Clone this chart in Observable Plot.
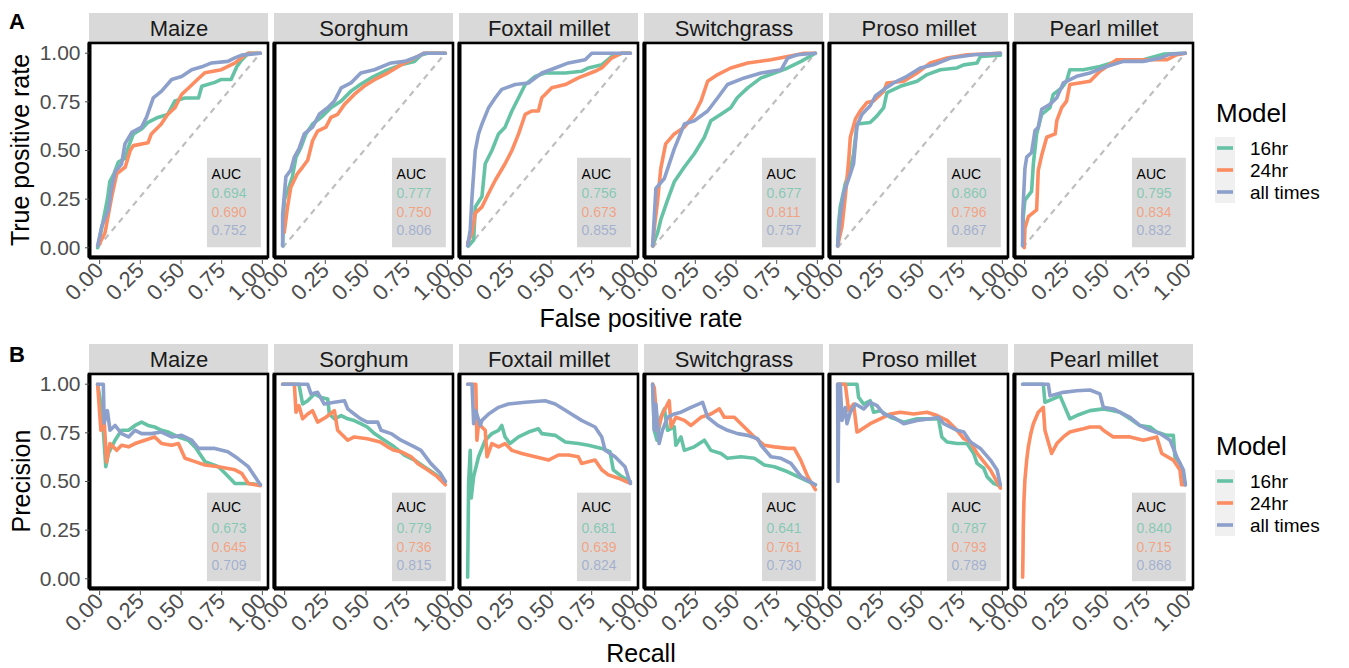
<!DOCTYPE html>
<html><head><meta charset="utf-8">
<script src="https://cdn.jsdelivr.net/npm/d3@7"></script>
<script src="https://cdn.jsdelivr.net/npm/@observablehq/plot@0.6"></script>
<style>
body{margin:0;background:#fff;overflow:hidden}
#wrap{position:relative;width:1349px;height:668px;font-family:'Liberation Sans',Arial,sans-serif}
#rowA{position:absolute;left:0;top:0}
#rowB{position:absolute;left:0;top:331px}
#overlay{position:absolute;left:0;top:0;pointer-events:none}
</style></head><body>
<div id="wrap"><div id="rowA"></div><div id="rowB"></div><svg id="overlay" width="1349" height="668"></svg></div>
<script>
const species = ["Maize","Sorghum","Foxtail millet","Switchgrass","Proso millet","Pearl millet"];
const models = ["16hr","24hr","all times"];
const modelColors = ["#66c2a5","#fc8d62","#8da0cb"];
const axisTicks = [0,0.25,0.5,0.75,1];

// AUC values, one entry per species (in species order)
const rocAuc16 = [0.694,0.777,0.756,0.677,0.860,0.795];
const rocAuc24 = [0.690,0.750,0.673,0.811,0.796,0.834];
const rocAucAll = [0.752,0.806,0.855,0.757,0.867,0.832];
const prAuc16 = [0.673,0.779,0.681,0.641,0.787,0.840];
const prAuc24 = [0.645,0.736,0.639,0.761,0.793,0.715];
const prAucAll = [0.709,0.815,0.824,0.730,0.789,0.868];

// ROC curves [false positive rate, true positive rate]
const rocMaize16 = [[0,0],[0.025,0.1],[0.06,0.25],[0.075,0.34],[0.1,0.38],[0.127,0.44],[0.17,0.46],[0.19,0.52],[0.22,0.585],[0.27,0.61],[0.31,0.645],[0.37,0.67],[0.43,0.685],[0.475,0.755],[0.537,0.77],[0.62,0.77],[0.64,0.83],[0.72,0.85],[0.76,0.865],[0.82,0.865],[0.855,0.93],[0.885,0.965],[0.925,1],[1,1]];
const rocMaize24 = [[0.01,0.02],[0.045,0.076],[0.086,0.26],[0.117,0.38],[0.17,0.415],[0.2,0.5],[0.22,0.525],[0.31,0.54],[0.33,0.585],[0.39,0.635],[0.43,0.685],[0.475,0.72],[0.516,0.788],[0.557,0.82],[0.62,0.87],[0.66,0.9],[0.76,0.915],[0.845,0.95],[0.905,0.99],[0.925,1],[1,1]];
const rocMaizeAll = [[0,0.01],[0.025,0.11],[0.066,0.195],[0.086,0.31],[0.107,0.39],[0.147,0.43],[0.168,0.534],[0.21,0.593],[0.27,0.62],[0.3,0.67],[0.342,0.77],[0.393,0.805],[0.455,0.865],[0.516,0.88],[0.578,0.915],[0.64,0.93],[0.7,0.95],[0.8,0.958],[0.84,0.975],[0.885,0.99],[1,1]];
const rocSorghum16 = [[0,0.01],[0.01,0.245],[0.03,0.29],[0.06,0.365],[0.082,0.466],[0.113,0.517],[0.143,0.585],[0.184,0.636],[0.236,0.67],[0.297,0.72],[0.36,0.754],[0.42,0.805],[0.48,0.84],[0.543,0.873],[0.625,0.907],[0.727,0.94],[0.81,0.957],[0.85,0.99],[0.89,1],[1,1]];
const rocSorghum24 = [[0.01,0.08],[0.03,0.21],[0.05,0.31],[0.09,0.38],[0.123,0.415],[0.154,0.45],[0.184,0.55],[0.215,0.6],[0.266,0.62],[0.297,0.67],[0.338,0.686],[0.38,0.737],[0.44,0.788],[0.5,0.83],[0.564,0.864],[0.645,0.898],[0.727,0.94],[0.81,0.975],[0.87,1],[1,1]];
const rocSorghumAll = [[0,0.01],[0,0.17],[0.02,0.365],[0.05,0.4],[0.072,0.466],[0.1,0.508],[0.133,0.585],[0.184,0.62],[0.225,0.686],[0.277,0.72],[0.318,0.754],[0.36,0.822],[0.42,0.847],[0.48,0.898],[0.564,0.915],[0.666,0.95],[0.75,0.958],[0.83,0.983],[0.87,1],[1,1]];
const rocFoxtail16 = [[0.006,0.01],[0.037,0.04],[0.047,0.21],[0.088,0.263],[0.108,0.432],[0.149,0.5],[0.19,0.585],[0.23,0.62],[0.272,0.703],[0.313,0.771],[0.354,0.839],[0.415,0.881],[0.476,0.898],[0.6,0.898],[0.7,0.907],[0.742,0.924],[0.824,0.94],[0.885,0.983],[0.947,1],[1,1]];
const rocFoxtail24 = [[0,0.025],[0.027,0.076],[0.047,0.178],[0.088,0.21],[0.129,0.28],[0.17,0.347],[0.23,0.432],[0.272,0.5],[0.313,0.585],[0.354,0.686],[0.394,0.703],[0.435,0.703],[0.456,0.771],[0.517,0.822],[0.6,0.839],[0.68,0.873],[0.783,0.907],[0.824,0.924],[0.885,0.975],[0.947,1],[1,1]];
const rocFoxtailAll = [[0,0.01],[0.016,0.093],[0.027,0.263],[0.047,0.5],[0.067,0.585],[0.088,0.636],[0.129,0.72],[0.17,0.771],[0.21,0.814],[0.292,0.839],[0.374,0.847],[0.456,0.898],[0.538,0.924],[0.62,0.95],[0.722,0.966],[0.763,1],[1,1]];
const rocSwitch16 = [[0,0.01],[0.03,0.076],[0.05,0.144],[0.092,0.246],[0.133,0.339],[0.195,0.415],[0.256,0.483],[0.318,0.568],[0.358,0.653],[0.42,0.686],[0.48,0.72],[0.52,0.771],[0.584,0.822],[0.666,0.873],[0.748,0.898],[0.83,0.924],[0.912,0.958],[1,1]];
const rocSwitch24 = [[0,0.01],[0.01,0.1],[0.03,0.237],[0.05,0.407],[0.08,0.534],[0.133,0.585],[0.195,0.62],[0.256,0.686],[0.297,0.754],[0.338,0.856],[0.4,0.89],[0.48,0.924],[0.584,0.95],[0.727,0.966],[0.83,0.983],[0.93,1],[1,1]];
const rocSwitchAll = [[0,0.01],[0.02,0.305],[0.072,0.356],[0.133,0.508],[0.195,0.636],[0.256,0.653],[0.338,0.703],[0.4,0.771],[0.46,0.839],[0.563,0.873],[0.666,0.898],[0.79,0.915],[0.83,0.975],[0.89,0.992],[1,1]];
const rocProso16 = [[0,0.01],[0.006,0.127],[0.016,0.21],[0.047,0.33],[0.078,0.4],[0.098,0.483],[0.119,0.636],[0.2,0.644],[0.242,0.678],[0.283,0.72],[0.303,0.797],[0.385,0.83],[0.488,0.856],[0.55,0.89],[0.631,0.915],[0.733,0.924],[0.775,0.94],[0.857,0.95],[0.877,0.983],[1,0.99],[1,1]];
const rocProso24 = [[0,0.01],[0.027,0.11],[0.047,0.263],[0.068,0.45],[0.078,0.568],[0.109,0.661],[0.139,0.703],[0.18,0.746],[0.221,0.754],[0.283,0.805],[0.303,0.847],[0.406,0.856],[0.488,0.898],[0.57,0.95],[0.672,0.975],[0.795,0.992],[1,1]];
const rocProsoAll = [[0,0.01],[0.016,0.16],[0.037,0.28],[0.078,0.38],[0.098,0.432],[0.119,0.627],[0.15,0.686],[0.2,0.73],[0.232,0.78],[0.283,0.813],[0.344,0.847],[0.426,0.881],[0.508,0.924],[0.59,0.94],[0.693,0.975],[0.836,0.992],[1,1]];
const rocPearl16 = [[0,0.01],[0.004,0.16],[0.014,0.245],[0.055,0.29],[0.066,0.432],[0.086,0.585],[0.117,0.686],[0.168,0.72],[0.188,0.788],[0.24,0.822],[0.27,0.856],[0.29,0.915],[0.373,0.915],[0.475,0.932],[0.578,0.958],[0.742,0.966],[0.865,0.995],[1,1]];
const rocPearl24 = [[0.01,0],[0.014,0.1],[0.035,0.16],[0.086,0.195],[0.096,0.398],[0.117,0.475],[0.148,0.568],[0.2,0.585],[0.21,0.653],[0.24,0.72],[0.27,0.754],[0.29,0.839],[0.414,0.856],[0.475,0.907],[0.578,0.966],[0.885,0.966],[0.947,0.992],[1,1]];
const rocPearlAll = [[0,0.01],[0,0.16],[0.014,0.407],[0.025,0.466],[0.055,0.49],[0.076,0.602],[0.096,0.619],[0.117,0.712],[0.168,0.737],[0.21,0.771],[0.25,0.847],[0.332,0.881],[0.414,0.898],[0.516,0.932],[0.619,0.958],[0.742,0.958],[0.844,0.975],[0.906,0.995],[1,1]];

// Precision-recall curves [recall, precision]
const prMaize16 = [[0,1],[0.014,0.93],[0.035,0.763],[0.05,0.576],[0.066,0.644],[0.107,0.712],[0.147,0.763],[0.19,0.763],[0.23,0.788],[0.27,0.805],[0.31,0.788],[0.35,0.78],[0.393,0.763],[0.434,0.754],[0.496,0.729],[0.557,0.712],[0.598,0.678],[0.66,0.602],[0.742,0.576],[0.783,0.542],[0.844,0.49],[0.926,0.49],[1,0.483]];
const prMaize24 = [[0,1],[0.02,0.763],[0.04,0.814],[0.055,0.6],[0.076,0.695],[0.117,0.66],[0.147,0.686],[0.19,0.678],[0.23,0.695],[0.29,0.712],[0.35,0.729],[0.393,0.695],[0.455,0.686],[0.496,0.695],[0.537,0.619],[0.598,0.602],[0.66,0.585],[0.742,0.576],[0.844,0.56],[0.885,0.542],[0.926,0.49],[1,0.478]];
const prMaizeAll = [[0,1],[0.035,1],[0.04,0.8],[0.06,0.864],[0.076,0.763],[0.107,0.788],[0.147,0.746],[0.19,0.729],[0.23,0.763],[0.27,0.746],[0.33,0.746],[0.393,0.754],[0.455,0.729],[0.516,0.737],[0.578,0.712],[0.62,0.67],[0.72,0.67],[0.8,0.653],[0.86,0.619],[0.926,0.576],[1,0.483]];
const prSorghum16 = [[0,1],[0.1,1],[0.123,0.898],[0.154,0.915],[0.195,0.95],[0.236,0.932],[0.277,0.924],[0.287,0.847],[0.318,0.822],[0.36,0.839],[0.4,0.822],[0.44,0.813],[0.48,0.797],[0.52,0.78],[0.564,0.746],[0.625,0.712],[0.686,0.678],[0.748,0.636],[0.81,0.61],[0.87,0.576],[0.93,0.542],[1,0.5]];
const prSorghum24 = [[0,1],[0.072,1],[0.082,0.856],[0.1,0.89],[0.123,0.822],[0.154,0.847],[0.184,0.864],[0.215,0.805],[0.266,0.83],[0.318,0.864],[0.338,0.763],[0.4,0.712],[0.44,0.729],[0.52,0.72],[0.6,0.703],[0.645,0.678],[0.686,0.66],[0.727,0.653],[0.79,0.627],[0.83,0.593],[0.89,0.56],[0.95,0.525],[1,0.483]];
const prSorghumAll = [[0,1],[0.154,1],[0.174,0.95],[0.215,0.958],[0.256,0.898],[0.318,0.907],[0.38,0.915],[0.4,0.873],[0.44,0.847],[0.48,0.822],[0.52,0.805],[0.584,0.805],[0.605,0.763],[0.666,0.746],[0.727,0.712],[0.81,0.678],[0.85,0.66],[0.91,0.593],[0.97,0.542],[1,0.5]];
const prFoxtail16 = [[0,0.008],[0.006,0.49],[0.016,0.66],[0.022,0.415],[0.037,0.525],[0.067,0.627],[0.108,0.712],[0.149,0.746],[0.19,0.763],[0.21,0.788],[0.23,0.729],[0.26,0.695],[0.313,0.729],[0.374,0.754],[0.435,0.771],[0.456,0.746],[0.538,0.737],[0.6,0.703],[0.68,0.695],[0.742,0.686],[0.824,0.67],[0.875,0.653],[0.895,0.56],[0.947,0.525],[1,0.5]];
const prFoxtail24 = [[0,1],[0.05,1],[0.057,0.712],[0.067,0.797],[0.108,0.763],[0.119,0.627],[0.149,0.695],[0.19,0.678],[0.23,0.695],[0.272,0.66],[0.333,0.644],[0.415,0.627],[0.497,0.61],[0.558,0.636],[0.62,0.636],[0.68,0.627],[0.7,0.593],[0.783,0.61],[0.824,0.56],[0.865,0.534],[0.926,0.517],[1,0.49]];
const prFoxtailAll = [[0,1],[0.027,1],[0.037,0.797],[0.05,0.864],[0.078,0.788],[0.088,0.814],[0.129,0.847],[0.19,0.881],[0.25,0.898],[0.354,0.907],[0.476,0.915],[0.538,0.898],[0.62,0.856],[0.7,0.814],[0.783,0.78],[0.824,0.729],[0.845,0.66],[0.906,0.627],[0.967,0.576],[1,0.49]];
const prSwitch16 = [[0,1],[0.01,0.763],[0.027,0.712],[0.05,0.83],[0.072,0.873],[0.092,0.763],[0.133,0.78],[0.143,0.686],[0.174,0.729],[0.195,0.66],[0.256,0.678],[0.318,0.712],[0.358,0.66],[0.42,0.644],[0.46,0.619],[0.543,0.627],[0.625,0.619],[0.686,0.585],[0.748,0.576],[0.83,0.55],[0.912,0.517],[1,0.483]];
const prSwitch24 = [[0,1],[0.01,0.983],[0.03,0.763],[0.06,0.847],[0.102,0.915],[0.113,0.78],[0.143,0.83],[0.195,0.814],[0.236,0.788],[0.297,0.83],[0.358,0.847],[0.41,0.873],[0.44,0.83],[0.502,0.83],[0.563,0.78],[0.625,0.729],[0.686,0.686],[0.748,0.678],[0.83,0.67],[0.87,0.67],[0.91,0.61],[0.953,0.525],[1,0.458]];
const prSwitchAll = [[0,1],[0.01,0.763],[0.02,0.898],[0.04,0.695],[0.06,0.763],[0.092,0.83],[0.133,0.847],[0.174,0.856],[0.236,0.881],[0.307,0.907],[0.338,0.83],[0.4,0.788],[0.46,0.763],[0.522,0.746],[0.584,0.737],[0.645,0.72],[0.666,0.686],[0.727,0.627],[0.789,0.619],[0.85,0.593],[0.912,0.525],[1,0.483]];
const prProso16 = [[0,1],[0.119,1],[0.129,0.932],[0.16,0.898],[0.2,0.915],[0.221,0.856],[0.262,0.864],[0.324,0.83],[0.406,0.805],[0.488,0.822],[0.59,0.822],[0.62,0.822],[0.64,0.729],[0.672,0.703],[0.734,0.695],[0.795,0.695],[0.836,0.644],[0.857,0.593],[0.898,0.568],[0.918,0.525],[0.959,0.49],[1,0.475]];
const prProso24 = [[0,1],[0.047,1],[0.068,0.864],[0.098,0.898],[0.119,0.754],[0.139,0.763],[0.2,0.797],[0.262,0.822],[0.324,0.847],[0.385,0.856],[0.467,0.847],[0.55,0.856],[0.611,0.839],[0.672,0.814],[0.734,0.763],[0.775,0.72],[0.816,0.703],[0.857,0.644],[0.898,0.602],[0.939,0.559],[1,0.466]];
const prProsoAll = [[0,1],[0.002,0.5],[0.008,1],[0.016,1],[0.027,0.814],[0.047,0.88],[0.057,0.797],[0.078,0.856],[0.109,0.898],[0.16,0.873],[0.2,0.907],[0.242,0.89],[0.283,0.847],[0.344,0.83],[0.406,0.797],[0.488,0.814],[0.57,0.822],[0.62,0.83],[0.652,0.797],[0.734,0.763],[0.775,0.754],[0.816,0.703],[0.877,0.67],[0.939,0.61],[0.98,0.559],[1,0.483]];
const prPearl16 = [[0,1],[0.127,1],[0.137,0.907],[0.23,0.94],[0.29,0.822],[0.332,0.839],[0.414,0.864],[0.496,0.873],[0.557,0.864],[0.598,0.856],[0.66,0.822],[0.72,0.788],[0.783,0.78],[0.824,0.754],[0.885,0.737],[0.926,0.737],[0.936,0.627],[0.967,0.593],[1,0.483]];
const prPearl24 = [[0,0.008],[0.002,0.12],[0.004,0.254],[0.008,0.4],[0.014,0.508],[0.025,0.61],[0.035,0.678],[0.05,0.745],[0.066,0.797],[0.096,0.856],[0.127,0.881],[0.137,0.763],[0.178,0.644],[0.21,0.695],[0.25,0.729],[0.29,0.754],[0.332,0.763],[0.373,0.771],[0.414,0.78],[0.475,0.78],[0.496,0.763],[0.557,0.729],[0.619,0.729],[0.66,0.729],[0.742,0.712],[0.824,0.729],[0.855,0.644],[0.926,0.61],[0.967,0.559],[0.977,0.483],[1,0.483]];
const prPearlAll = [[0,1],[0.158,1],[0.168,0.94],[0.25,0.958],[0.332,0.966],[0.414,0.97],[0.475,0.95],[0.496,0.881],[0.557,0.873],[0.598,0.856],[0.66,0.83],[0.72,0.788],[0.783,0.763],[0.844,0.746],[0.906,0.712],[0.947,0.627],[0.988,0.559],[1,0.483]];

const rocCurves = [
  [rocMaize16, rocMaize24, rocMaizeAll],
  [rocSorghum16, rocSorghum24, rocSorghumAll],
  [rocFoxtail16, rocFoxtail24, rocFoxtailAll],
  [rocSwitch16, rocSwitch24, rocSwitchAll],
  [rocProso16, rocProso24, rocProsoAll],
  [rocPearl16, rocPearl24, rocPearlAll]
];
const prCurves = [
  [prMaize16, prMaize24, prMaizeAll],
  [prSorghum16, prSorghum24, prSorghumAll],
  [prFoxtail16, prFoxtail24, prFoxtailAll],
  [prSwitch16, prSwitch24, prSwitchAll],
  [prProso16, prProso24, prProsoAll],
  [prPearl16, prPearl24, prPearlAll]
];

const FONT = "'Liberation Sans', Arial, Helvetica, sans-serif";

function facetRow({curves, aucs, diagonal, height, box, labelY, valueY}) {
  const lineRows = [];
  models.forEach((m, j) => species.forEach((sp, i) => {
    curves[i][j].forEach(([x, y]) => lineRows.push({species: sp, model: m, x, y}));
  }));
  const aucRows = species.flatMap((sp, i) => models.map((m, j) => ({species: sp, model: m, auc: aucs[j][i], k: j})));
  const panels = species.map(s => ({species: s}));
  const lo = -0.05, hi = 1.05, stripTop = 1.204;
  return Plot.plot({
    width: 1349, height,
    marginLeft: 87, marginRight: 154, marginTop: 13, marginBottom: height - 257,
    style: {fontFamily: FONT, background: "transparent", overflow: "visible"},
    fx: {domain: species, paddingInner: 0.033, paddingOuter: 0, axis: null, label: null},
    x: {domain: [lo, hi]},
    y: {domain: [lo, stripTop]},
    color: {domain: models, range: modelColors},
    marks: [
      Plot.rect(panels, {fx: "species", x1: lo, x2: hi, y1: hi, y2: stripTop, fill: "#d9d9d9"}),
      Plot.text(panels, {fx: "species", x: 0.5, y: (hi + stripTop) / 2, text: "species", fontSize: 22, fill: "#1a1a1a"}),
      diagonal ? Plot.link(panels, {fx: "species", x1: 0, y1: 0, x2: 1, y2: 1, stroke: "#bebebe", strokeWidth: 2.2, strokeDasharray: "6,5"}) : null,
      Plot.rect(panels, {fx: "species", x1: box[0], x2: box[1], y1: box[2], y2: box[3], fill: "#d9d9d9"}),
      Plot.text(panels, {fx: "species", x: 0.7, y: labelY, text: () => "AUC", textAnchor: "start", fontSize: 14, fill: "black"}),
      Plot.text(aucRows, {fx: "species", x: 0.7, y: d => valueY[d.k], text: d => d.auc.toFixed(3), textAnchor: "start", fontSize: 14, fill: "model", fillOpacity: 0.72}),
      Plot.line(lineRows, {fx: "species", x: "x", y: "y", z: "model", stroke: "model", strokeWidth: 3.6, strokeLinejoin: "round"}),
      Plot.rect(panels, {fx: "species", x1: lo, x2: hi, y1: lo, y2: hi, fill: "none", stroke: "black", strokeWidth: 2.6}),
      Plot.ruleX(panels, {fx: "species", x: lo, y1: lo, y2: hi, stroke: "black", strokeWidth: 4}),
      Plot.ruleY(panels, {fx: "species", y: lo, x1: lo, x2: hi, stroke: "black", strokeWidth: 4}),
      Plot.axisY({ticks: axisTicks, tickFormat: d => d.toFixed(2), fontSize: 21, tickSize: 4, tickPadding: 5, label: null, color: "#4d4d4d"}),
      Plot.axisX({ticks: axisTicks, tickFormat: d => d.toFixed(2), tickRotate: -45, fontSize: 22, tickSize: 4, tickPadding: 2, dx: 2, dy: 3, label: null, color: "#4d4d4d"})
    ]
  });
}

document.getElementById("rowA").appendChild(facetRow({
  curves: rocCurves, aucs: [rocAuc16, rocAuc24, rocAucAll], diagonal: true, height: 331,
  box: [0.675, 1.006, 0.0, 0.46], labelY: 0.377, valueY: [0.279, 0.182, 0.089]
}));
document.getElementById("rowB").appendChild(facetRow({
  curves: prCurves, aucs: [prAuc16, prAuc24, prAucAll], diagonal: false, height: 337,
  box: [0.675, 1.006, -0.015, 0.44], labelY: 0.366, valueY: [0.258, 0.161, 0.068]
}));

// overlay: panel tags, axis titles and legends
const ov = d3.select("#overlay").style("font-family", FONT);
function txt(x, y, s, size, opts = {}) {
  const t = ov.append("text").attr("x", x).attr("y", y).attr("font-size", size).text(s).attr("fill", opts.fill || "black");
  if (opts.anchor) t.attr("text-anchor", opts.anchor);
  if (opts.bold) t.attr("font-weight", "bold");
  if (opts.rotate) t.attr("transform", `rotate(-90 ${x} ${y})`);
  return t;
}
txt(9, 29, "A", 22, {bold: true});
txt(9, 362, "B", 22, {bold: true});
txt(29, 150, "True positive rate", 25, {anchor: "middle", rotate: true});
txt(30, 481, "Precision", 25, {anchor: "middle", rotate: true});
txt(641, 327, "False positive rate", 25, {anchor: "middle"});
txt(641, 662, "Recall", 25, {anchor: "middle"});

function legend(top) {
  txt(1216, top, "Model", 26);
  const y0 = top + 15;
  const step = 22;
  ov.append("rect").attr("x", 1215).attr("y", y0).attr("width", 20).attr("height", step * 3).attr("fill", "#f0f0f0");
  models.forEach((m, i) => {
    const cy = y0 + step / 2 + i * step;
    ov.append("line").attr("x1", 1217).attr("x2", 1233).attr("y1", cy).attr("y2", cy)
      .attr("stroke", modelColors[i]).attr("stroke-width", 3.6);
    txt(1250, cy + 7, m, 19);
  });
}
legend(122);
legend(455);
</script>
</body></html>
